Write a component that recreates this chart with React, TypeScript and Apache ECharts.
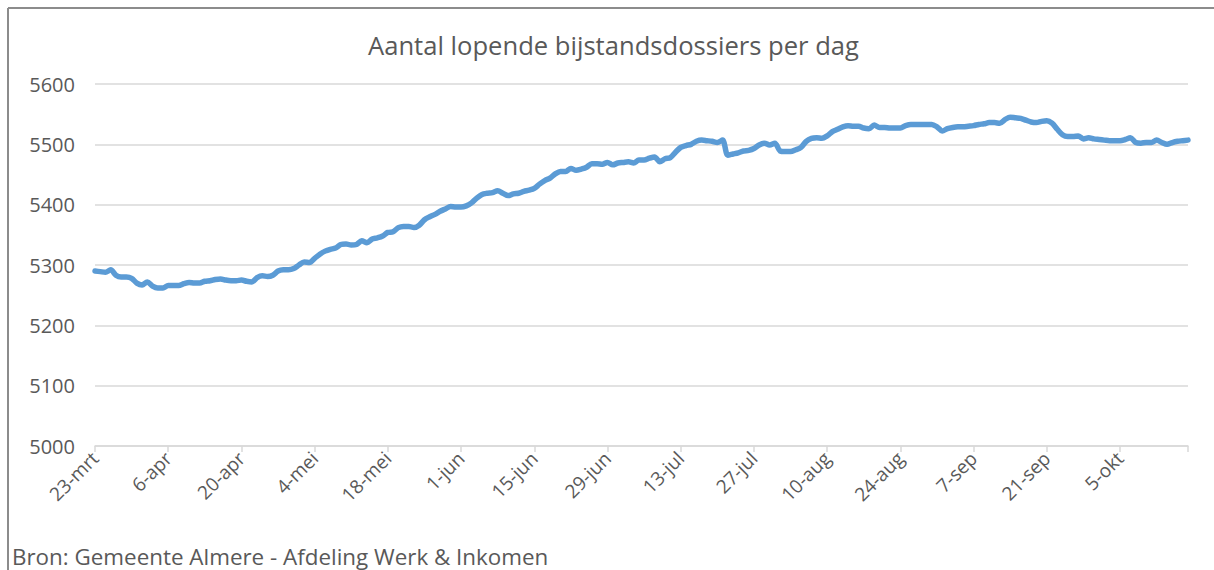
import React, { useEffect, useRef } from "react";
import * as echarts from "echarts";

const TITLE = "Aantal lopende bijstandsdossiers per dag";
const SOURCE = "Bron: Gemeente Almere - Afdeling Werk & Inkomen";

// Dutch month abbreviations used in the date labels
const MONTHS = ["jan", "feb", "mrt", "apr", "mei", "jun", "jul", "aug", "sep", "okt", "nov", "dec"];
const START_DATE = [2020, 2, 23]; // 23-mrt

// Daily number of running files, 23-mrt .. 18-okt
const values = [
  5290, 5289, 5288, 5292, 5283, 5280, 5280, 5278, 5270, 5267,
  5272, 5265, 5262, 5262, 5266, 5266, 5266, 5269, 5271, 5270,
  5270, 5273, 5274, 5276, 5277, 5275, 5274, 5274, 5275, 5273,
  5272, 5279, 5282, 5281, 5283, 5290, 5292, 5292, 5294, 5300,
  5305, 5304, 5311, 5318, 5323, 5326, 5328, 5334, 5335, 5333,
  5334, 5340, 5337, 5343, 5345, 5348, 5354, 5355, 5362, 5364,
  5364, 5362, 5366, 5375, 5380, 5384, 5389, 5393, 5397, 5396,
  5396, 5398, 5403, 5411, 5417, 5419, 5420, 5423, 5419, 5415,
  5418, 5419, 5422, 5424, 5427, 5434, 5440, 5444, 5451, 5455,
  5455, 5460, 5457, 5459, 5462, 5468, 5468, 5467, 5470, 5466,
  5469, 5470, 5471, 5469, 5474, 5474, 5477, 5479, 5471, 5476,
  5478, 5487, 5495, 5498, 5500, 5505, 5507, 5506, 5505, 5503,
  5507, 5482, 5484, 5486, 5489, 5490, 5493, 5499, 5502, 5499,
  5502, 5489, 5488, 5488, 5491, 5495, 5505, 5510, 5511, 5510,
  5514, 5521, 5525, 5529, 5531, 5530, 5530, 5527, 5526, 5532,
  5528, 5528, 5527, 5527, 5527, 5531, 5533, 5533, 5533, 5533,
  5533, 5529, 5522, 5526, 5528, 5529, 5529, 5530, 5531, 5533,
  5534, 5536, 5536, 5535, 5541, 5545, 5544, 5543, 5540, 5537,
  5536, 5538, 5539, 5535, 5525, 5516, 5513, 5513, 5514, 5509,
  5511, 5509, 5508, 5507, 5506, 5506, 5506, 5508, 5511, 5503,
  5502, 5503, 5503, 5507, 5503, 5500, 5503, 5505, 5506, 5507,
];

const Y_MIN = 5000;
const Y_MAX = 5600;
const Y_STEP = 100;
const LABEL_EVERY = 14;

function buildCategories(n: number): string[] {
  const out: string[] = [];
  for (let i = 0; i < n; i++) {
    const d = new Date(Date.UTC(START_DATE[0], START_DATE[1], START_DATE[2] + i));
    out.push(d.getUTCDate() + "-" + MONTHS[d.getUTCMonth()]);
  }
  return out;
}

const categories = buildCategories(values.length);

export default function App() {
  const ref = useRef<HTMLDivElement>(null);
  useEffect(() => {
    if (!ref.current) return;
    const chart = echarts.init(ref.current, undefined, { renderer: "svg" });
    const font = "'Open Sans', 'Noto Sans', sans-serif";
    const last = categories.length - 1;
    chart.setOption({
      animation: false,
      backgroundColor: "#ffffff",
      title: {
        text: TITLE,
        left: 363,
        top: 27,
        textStyle: { fontFamily: font, fontSize: 25.6, fontWeight: "normal", color: "#595959" },
      },
      grid: { left: 95, right: 26, top: 84, bottom: 124, containLabel: false },
      xAxis: {
        type: "category",
        data: categories,
        boundaryGap: false,
        axisLine: { show: true, lineStyle: { color: "#d9d9d9", width: 1.5 } },
        axisTick: {
          show: true,
          length: 6,
          lineStyle: { color: "#d9d9d9", width: 1.5 },
          interval: (i: number) => i % LABEL_EVERY === 0 || i === last,
        },
        axisLabel: {
          interval: (i: number) => i % LABEL_EVERY === 0,
          rotate: 45,
          margin: 9,
          fontFamily: font,
          fontSize: 19,
          color: "#595959",
        },
        splitLine: { show: false },
      },
      yAxis: {
        type: "value",
        min: Y_MIN,
        max: Y_MAX,
        interval: Y_STEP,
        axisLine: { show: false },
        axisTick: { show: false },
        axisLabel: {
          margin: 20,
          fontFamily: font,
          fontSize: 20,
          color: "#595959",
          formatter: (v: number) => String(v),
        },
        splitLine: { show: true, lineStyle: { color: "#d9d9d9", width: 1.5 } },
      },
      series: [
        {
          type: "line",
          data: values,
          showSymbol: false,
          symbol: "none",
          smooth: 0.3,
          lineStyle: { color: "#5b9bd5", width: 5.5, cap: "round", join: "round" },
        },
      ],
      graphic: [
        { type: "line", shape: { x1: 8, y1: 8, x2: 1214, y2: 8 }, style: { stroke: "#8c8c8c", lineWidth: 2 } },
        { type: "line", shape: { x1: 8, y1: 8, x2: 8, y2: 570 }, style: { stroke: "#8c8c8c", lineWidth: 2 } },
        {
          type: "text",
          x: 12,
          y: 556,
          style: {
            text: SOURCE,
            fontFamily: font,
            fontSize: 22.4,
            fill: "#595959",
            verticalAlign: "middle",
            align: "left",
          },
        },
      ],
    });
    return () => chart.dispose();
  }, []);
  return (
    <div
      ref={ref}
      style={{ position: "absolute", left: 0, top: 0, width: 1214, height: 570 }}
    />
  );
}
